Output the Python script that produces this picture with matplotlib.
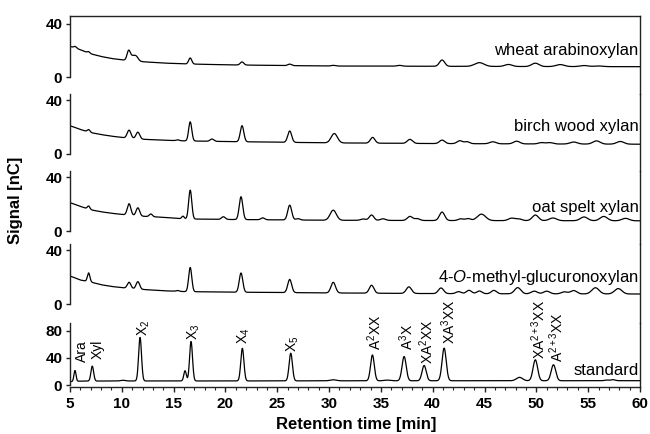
import numpy as np
import matplotlib
matplotlib.use("Agg")
import matplotlib.pyplot as plt
from matplotlib.ticker import MultipleLocator, FixedLocator

plt.rcParams['font.family'] = ['Liberation Sans', 'DejaVu Sans']
plt.rcParams['mathtext.fontset'] = 'custom'
plt.rcParams['mathtext.rm'] = 'Liberation Sans'
plt.rcParams['mathtext.it'] = 'Liberation Sans:italic'
plt.rcParams['mathtext.bf'] = 'Liberation Sans:bold'

# ---------------- data ----------------
sample_names = ["wheat arabinoxylan", "birch wood xylan", "oat spelt xylan",
                "4-$\\mathit{O}$-methyl-glucuronoxylan", "standard"]

base_t = [5, 5.5, 6, 7, 8, 9, 10.4, 12, 14, 16, 20, 25, 30, 40, 50, 60]

wheat_base = [23, 22, 20.5, 17.5, 15.5, 14, 12.6, 11.6, 10.6, 10.0, 9.3, 8.8, 8.4, 8.2, 8.0, 7.9]
wheat_rt = [5.5, 6.8, 10.65, 11.0, 11.4, 16.6, 21.6, 26.2, 30.4, 36.8, 40.9, 44.5, 47.3, 49.9, 52.3, 54.6, 56.0]
wheat_h = [1.0, 1.0, 6.0, 3.5, 2.5, 4.5, 2.3, 1.1, 0.5, 0.6, 4.7, 2.8, 1.5, 2.5, 1.5, 0.8, 0.5]
wheat_w = [0.12, 0.12, 0.15, 0.3, 0.2, 0.15, 0.17, 0.18, 0.2, 0.25, 0.25, 0.45, 0.35, 0.35, 0.4, 0.4, 0.4]

birch_base = [21.1, 19.8, 18.3, 16, 14.5, 13.3, 12.0, 11.0, 10.3, 9.8, 9.3, 8.8, 8.3, 7.8, 7.5, 7.3]
birch_rt = [6.8, 10.7, 11.55, 15.4, 16.6, 18.7, 21.6, 26.2, 30.5, 34.2, 37.8, 40.9, 42.6, 43.3,
            45.8, 48.1, 50.5, 51.3, 53.6, 55.8, 58.1]
birch_h = [1.8, 6.0, 5.0, 0.6, 14.3, 1.7, 12.0, 8.5, 7.0, 4.3, 3.0, 2.6, 2.2, 1.5,
           1.5, 2.0, 1.0, 1.0, 1.5, 2.4, 2.0]
birch_w = [0.12, 0.18, 0.18, 0.15, 0.15, 0.18, 0.17, 0.19, 0.3, 0.22, 0.25, 0.25, 0.25, 0.25,
           0.3, 0.3, 0.3, 0.3, 0.35, 0.35, 0.35]

oat_base = [21.1, 19.8, 18.3, 15.8, 14.3, 13.2, 12.0, 11.0, 10.2, 9.0, 8.6, 8.3, 8.0, 7.8, 7.7, 7.6]
oat_rt = [6.8, 10.7, 11.55, 12.8, 15.9, 16.6, 19.8, 21.5, 23.6, 26.2, 27.0, 30.4, 33.3, 34.1, 35.2,
          37.8, 38.5, 40.9, 42.7, 43.4, 44.7, 47.6, 48.3, 49.9, 51.6, 54.6, 56.5, 58.6]
oat_h = [2.3, 8.5, 6.0, 2.0, 2.0, 21.5, 2.0, 17.0, 1.4, 11.0, 1.0, 7.5, 1.0, 4.0, 1.2,
         3.0, 1.4, 6.3, 1.3, 1.5, 4.8, 1.8, 1.3, 4.2, 2.0, 2.8, 3.2, 1.8]
oat_w = [0.12, 0.17, 0.17, 0.15, 0.12, 0.15, 0.18, 0.17, 0.18, 0.19, 0.2, 0.3, 0.25, 0.22, 0.25,
         0.25, 0.25, 0.25, 0.25, 0.25, 0.4, 0.3, 0.3, 0.3, 0.35, 0.35, 0.35, 0.35]

gx_base = [21, 19.5, 18, 16.5, 14.5, 13.2, 12.0, 11.0, 10.0, 9.4, 9.0, 8.7, 8.4, 7.9, 7.7, 7.6]
gx_rt = [6.8, 10.7, 11.55, 15.4, 16.6, 21.5, 26.2, 30.4, 34.1, 37.7, 40.8, 42.5, 43.5, 44.5,
         45.9, 48.2, 49.8, 51.0, 52.7, 53.6, 55.7, 57.9]
gx_h = [6.5, 4.5, 5.5, 0.6, 18.0, 14.3, 9.8, 7.9, 5.9, 4.9, 4.2, 1.5, 2.5, 2.0,
        2.5, 4.6, 2.0, 2.0, 1.5, 2.5, 4.6, 4.0]
gx_w = [0.12, 0.17, 0.17, 0.15, 0.15, 0.17, 0.19, 0.22, 0.22, 0.25, 0.25, 0.25, 0.25, 0.25,
        0.25, 0.3, 0.3, 0.3, 0.3, 0.3, 0.35, 0.35]

std_base_t = [5, 6, 10, 20, 30, 40, 50, 60]
std_base = [5.0, 5.8, 6.0, 6.0, 6.2, 6.3, 6.3, 6.4]
std_rt = [5.48, 7.15, 10.1, 11.76, 16.1, 16.68, 21.63, 26.3, 30.4, 34.18, 35.6, 37.24, 39.17,
          41.1, 48.37, 49.9, 51.65, 56.8, 57.4]
std_h = [16, 22, 1.0, 64, 15, 58, 48, 40.7, 1.5, 38, 1.0, 35.7, 22.5, 48, 5, 30.8, 23.5, 1.0, 1.5]
std_w = [0.1, 0.13, 0.2, 0.14, 0.12, 0.14, 0.15, 0.16, 0.3, 0.18, 0.3, 0.2, 0.2, 0.2, 0.3,
         0.22, 0.22, 0.2, 0.2]

std_labels = ["Ara", "Xyl", "X$_\\mathregular{2}$", "X$_\\mathregular{3}$", "X$_\\mathregular{4}$",
              "X$_\\mathregular{5}$", "A$^\\mathregular{2}$XX", "A$^\\mathregular{3}$X",
              "XA$^\\mathregular{2}$XX", "XA$^\\mathregular{3}$XX", "XA$^\\mathregular{2+3}$XX",
              "A$^\\mathregular{2+3}$XX"]
std_label_t = [6.15, 7.65, 12.15, 16.9, 21.8, 26.5, 34.4, 37.5, 39.4, 41.5, 50.2, 51.95]
std_label_y = [34, 38, 72, 67, 60, 48, 52, 51, 31, 60, 39, 34]

traces = [
    (base_t, wheat_base, wheat_rt, wheat_h, wheat_w),
    (base_t, birch_base, birch_rt, birch_h, birch_w),
    (base_t, oat_base, oat_rt, oat_h, oat_w),
    (base_t, gx_base, gx_rt, gx_h, gx_w),
    (std_base_t, std_base, std_rt, std_h, std_w),
]

# ---------------- layout ----------------
W, H = 650, 434
fig = plt.figure(figsize=(W / 100, H / 100), dpi=100)

# (top px, bottom px, ylim, yticks)
panels = [
    (16.0, 94.3, (-12.7, 45.7), [0, 40]),
    (94.3, 170.7, (-12.5, 44.6), [0, 40]),
    (170.7, 244.3, (-9.9, 44.9), [0, 40]),
    (244.3, 323.0, (-14.0, 44.6), [0, 40]),
    (323.0, 387.0, (-2.9, 91.3), [0, 40, 80]),
]
left_px, right_px = 70, 640
name_y = [16.5, 17, 14, 16.5, 14.3]

t = np.linspace(5, 60, 2751)
n = len(panels)
for i, ((top, bot, ylim, yt), (bt, bv, rt, hh, ww)) in enumerate(zip(panels, traces)):
    ax = fig.add_axes([left_px / W, 1 - bot / H, (right_px - left_px) / W, (bot - top) / H])
    sig = np.interp(t, bt, bv)
    for r, h, w in zip(rt, hh, ww):
        sig = sig + h * np.exp(-0.5 * ((t - r) / w) ** 2)
    ax.plot(t, sig, color='black', lw=0.9)
    ax.set_xlim(5, 60)
    ax.set_ylim(*ylim)
    ax.patch.set_alpha(0)
    for s in ['left', 'right', 'top', 'bottom']:
        ax.spines[s].set_linewidth(1.0)
        ax.spines[s].set_color('#222222')
    ax.spines['left'].set_bounds(0, ylim[1])
    ax.spines['top'].set_visible(i == 0)
    ax.spines['bottom'].set_visible(i == n - 1)
    ax.yaxis.set_major_locator(FixedLocator(yt))
    ax.tick_params(axis='y', direction='out', length=3, width=1.0, pad=2.5,
                   labelsize=11, colors='#222222', labelcolor='black')
    for lab in ax.get_yticklabels():
        lab.set_fontweight('bold')
    if i == n - 1:
        ax.xaxis.set_major_locator(MultipleLocator(5))
        ax.xaxis.set_minor_locator(MultipleLocator(1))
        ax.tick_params(axis='x', which='major', direction='out', length=3.5, width=1.0,
                       pad=3.5, labelsize=11, colors='#222222', labelcolor='black')
        ax.tick_params(axis='x', which='minor', direction='out', length=2, width=0.8,
                       colors='#222222')
        for lab in ax.get_xticklabels():
            lab.set_fontweight('bold')
        for lab, lt, ly in zip(std_labels, std_label_t, std_label_y):
            ax.text(lt, ly, lab, rotation=90, ha='center', va='bottom', fontsize=10,
                    clip_on=False)
    else:
        ax.tick_params(axis='x', which='both', bottom=False, labelbottom=False)
    ax.text(59.85, name_y[i], sample_names[i], ha='right', va='baseline', fontsize=12)

fig.text(356 / W, 1 - 424 / H, "Retention time [min]", ha='center', va='center',
         fontsize=12, fontweight='bold')
fig.text(16 / W, 1 - 200 / H, "Signal [nC]", ha='center', va='center', rotation=90,
         fontsize=12, fontweight='bold')

fig.savefig("out.png", dpi=100)
